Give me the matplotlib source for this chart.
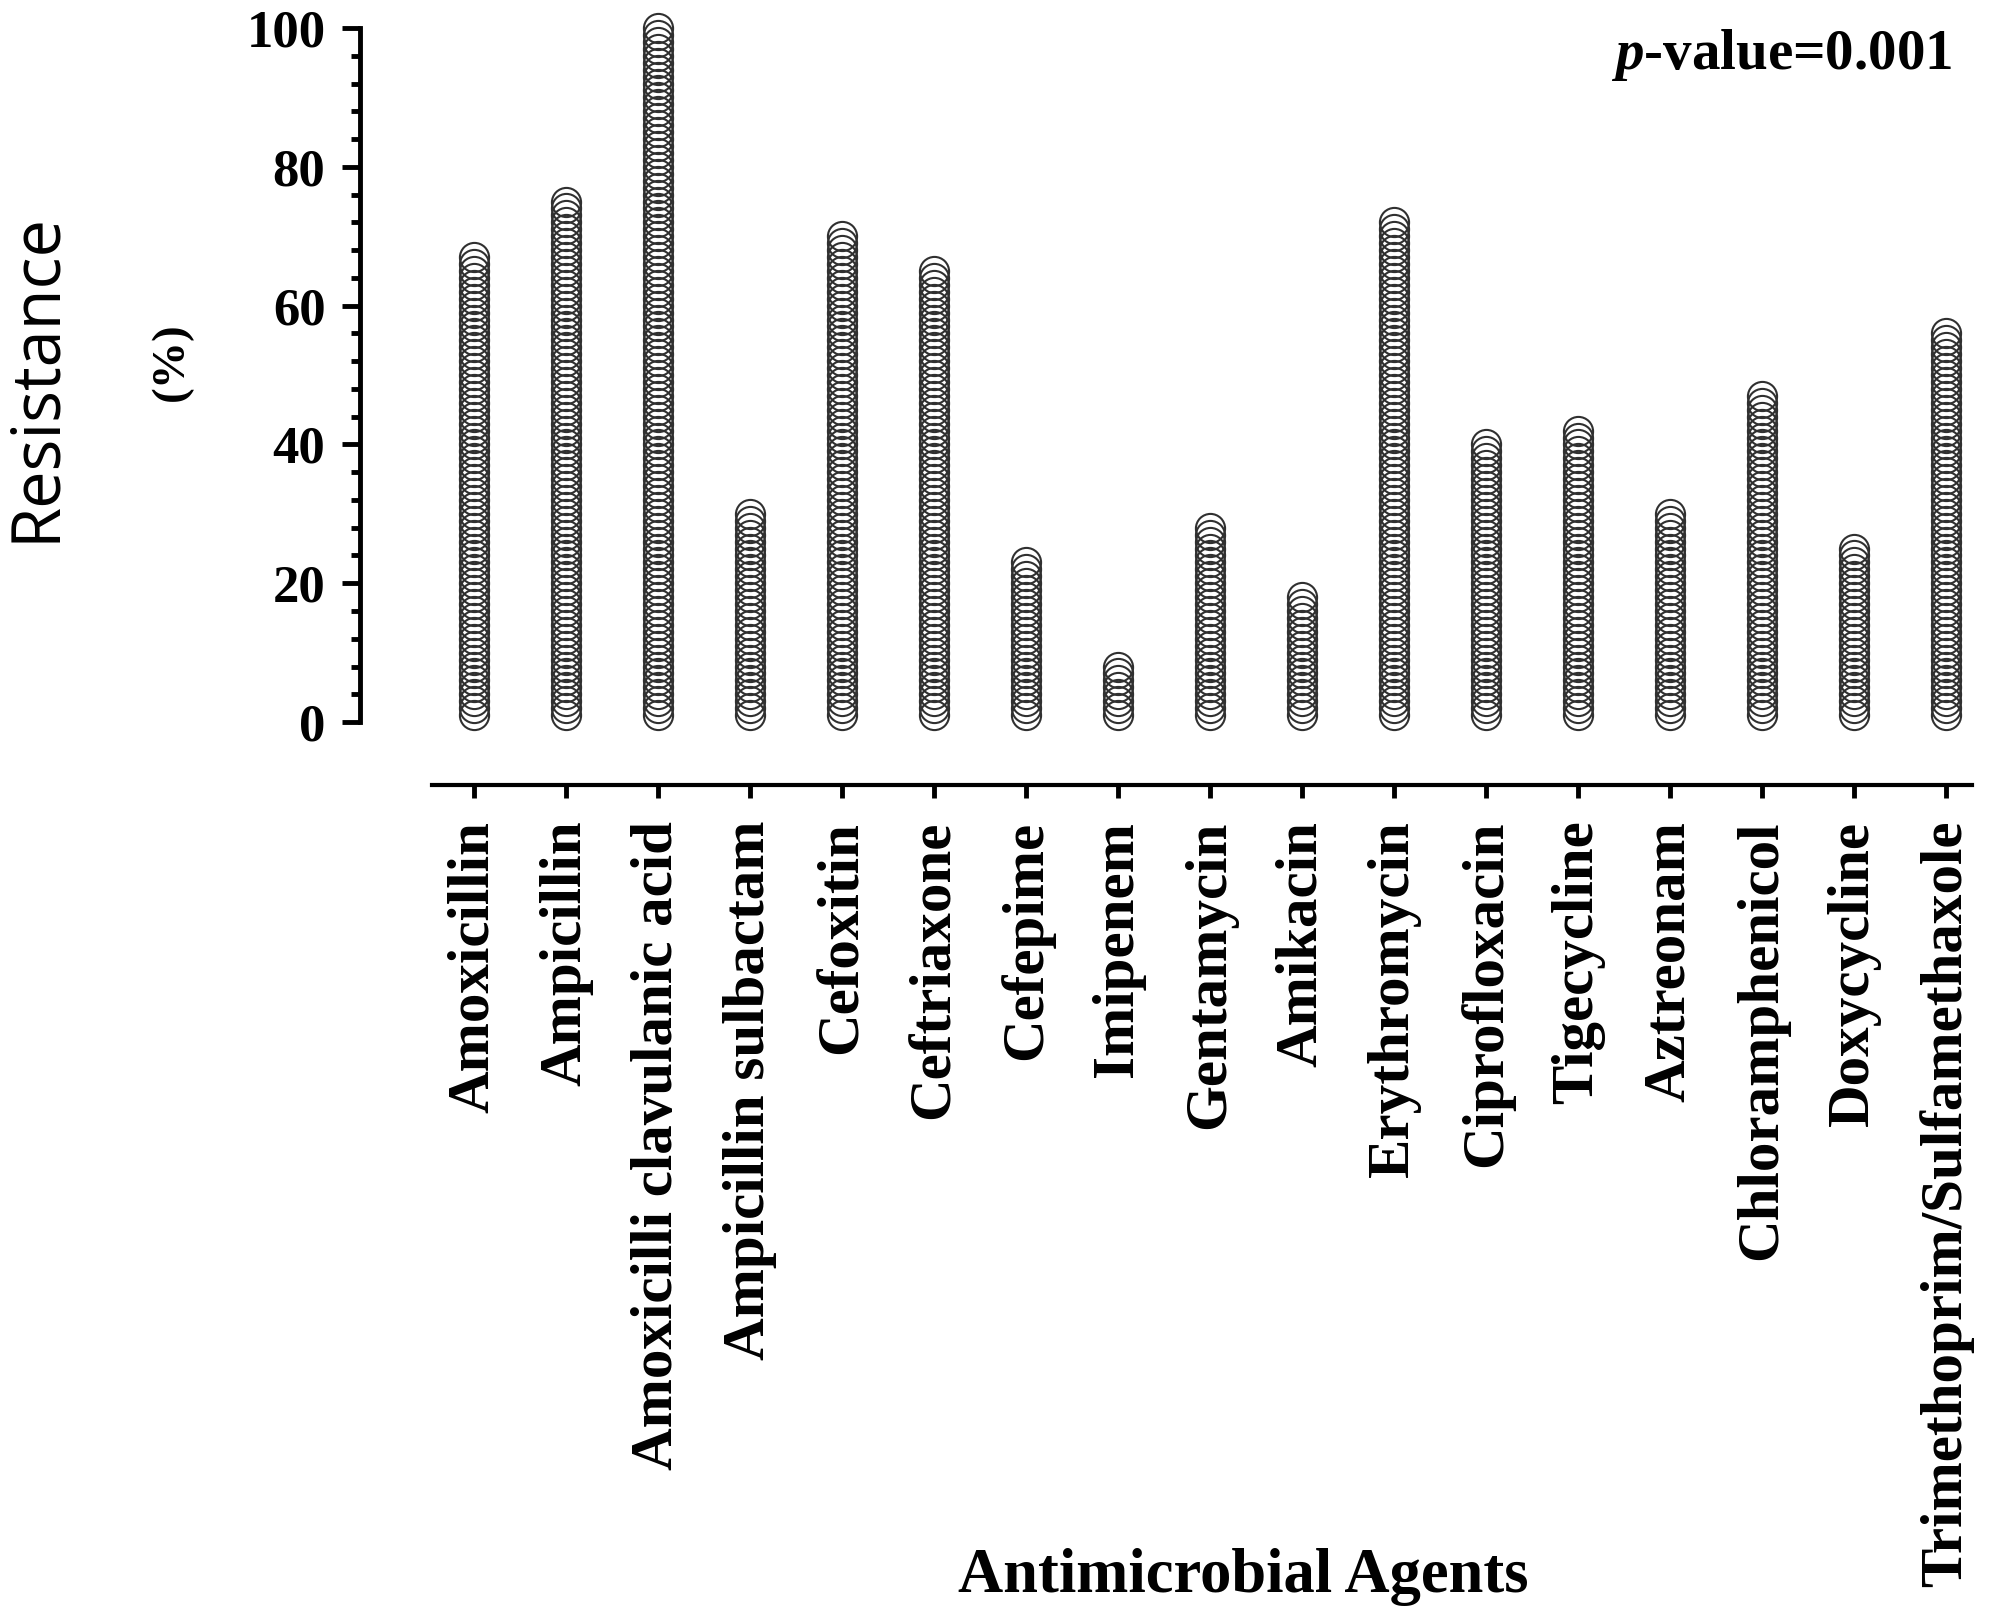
import numpy as np
import matplotlib
matplotlib.use('Agg')
import matplotlib.pyplot as plt
from matplotlib.ticker import MultipleLocator

plt.rcParams['font.family'] = 'Liberation Serif'
plt.rcParams['font.weight'] = 'bold'
plt.rcParams['mathtext.fontset'] = 'custom'
plt.rcParams['mathtext.it'] = 'Liberation Serif:italic:bold'
plt.rcParams['mathtext.rm'] = 'Liberation Serif:bold'

# resistance (%) per antimicrobial agent
agents = ['Amoxicillin', 'Ampicillin', 'Amoxicilli clavulanic acid',
          'Ampicillin sulbactam', 'Cefoxitin', 'Ceftriaxone', 'Cefepime',
          'Imipenem', 'Gentamycin', 'Amikacin', 'Erythromycin',
          'Ciprofloxacin', 'Tigecycline', 'Aztreonam', 'Chloramphenicol',
          'Doxycycline', 'Trimethoprim/Sulfamethaxole']
resistance = [67, 75, 100, 30, 70, 65, 23, 8, 28, 18, 72, 40, 42, 30, 47, 25, 56]

fig = plt.figure(figsize=(19.95, 16.19), dpi=100)
ax = fig.add_axes([0.1805, 0.554, 0.8135, 0.4287])

# one open circle per percent, stacked up to the resistance value
for i, val in enumerate(resistance):
    pts = np.arange(1, val + 1)
    ax.plot(np.full(len(pts), i), pts, 'o', ms=21, mfc='none',
            mec='#303030', mew=1.5, clip_on=False)

ax.set_xlim(-1.24, 16.4)
ax.set_ylim(0, 100)

for s in ['top', 'right']:
    ax.spines[s].set_visible(False)
ax.spines['left'].set_linewidth(3.5)
ax.spines['left'].set_bounds(0, 100)
ax.spines['bottom'].set_linewidth(3)
ax.spines['bottom'].set_position(('outward', 45))
ax.spines['bottom'].set_bounds(-0.46, 16.28)

ax.yaxis.set_major_locator(MultipleLocator(20))
ax.yaxis.set_minor_locator(MultipleLocator(4))
ax.tick_params(axis='y', which='major', length=13, width=3.5, labelsize=38, pad=12)
ax.tick_params(axis='y', which='minor', length=6.5, width=3.5)

ax.set_xticks(range(len(agents)))
ax.set_xticklabels(agents, rotation=90, ha='center', va='top')
ax.tick_params(axis='x', length=9, width=3.5, labelsize=42.5, pad=17)

fig.text(1243 / 1995, 1 - 1577 / 1619, 'Antimicrobial Agents', ha='center',
         va='center', fontsize=45, fontweight='bold')
fig.text(36 / 1995, 1 - 377 / 1619, 'Resistance', rotation=90, ha='center',
         va='center', fontsize=48, family='Open Sans', fontweight='normal')
fig.text(172 / 1995, 1 - 362 / 1619, '(%)', rotation=90, ha='center',
         va='center', fontsize=34, fontweight='bold')
fig.text(1952 / 1995, 1 - 55 / 1619, r'$p$-value=0.001', ha='right',
         va='center', fontsize=41, fontweight='bold')

fig.savefig('out.png', dpi=100)
